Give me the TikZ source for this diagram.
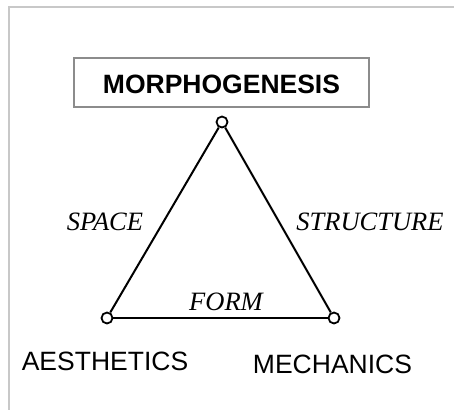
\documentclass[tikz,border=0pt]{standalone}
\usepackage{fontspec}
\setmainfont{Liberation Serif}
\setsansfont{Liberation Sans}
\usepackage{tikz}

\definecolor{framegray}{HTML}{C8C8C8}
\definecolor{boxgray}{HTML}{8C8C8C}

\tikzset{
    vertex/.style={circle, draw, fill=white, line width=1.8pt, minimum size=11pt, inner sep=0pt},
    side/.style={line width=2pt},
    edgelabel/.style={anchor=base, font=\fontsize{26.5}{30}\selectfont\itshape, inner sep=0pt},
    cornerlabel/.style={anchor=base, font=\fontsize{26.5}{30}\selectfont\sffamily, inner sep=0pt},
}

\begin{document}
\begin{tikzpicture}[x=1pt, y=-1pt]
    % 画布大小
    \useasboundingbox (0,0) rectangle (454,410);

    % 外框（只有上边和左边）
    \draw[framegray, line width=2pt] (454,7) -- (9,7) -- (9,410);

    % 标题框
    \draw[boxgray, line width=2pt] (74,58) rectangle (369,107);
    \node[anchor=base, inner sep=0pt, font=\fontsize{26.5}{30}\selectfont\sffamily\bfseries] (title) at (221.5,93) {MORPHOGENESIS};

    % 三角形顶点
    \node[vertex] (top) at (222,122) {};
    \node[vertex] (left) at (107,318) {};
    \node[vertex] (right) at (334,318) {};

    % 三角形边
    \draw[side] (top) -- (left);
    \draw[side] (top) -- (right);
    \draw[side] (left) -- (right);

    % 边的标注
    \node[edgelabel] (space) at (105,230) {SPACE};
    \node[edgelabel] (structure) at (370,230) {STRUCTURE};
    \node[edgelabel] (form) at (226,310) {FORM};

    % 顶点的标注
    \node[cornerlabel] (aesthetics) at (105,370) {AESTHETICS};
    \node[cornerlabel] (mechanics) at (332.5,373) {MECHANICS};
\end{tikzpicture}
\end{document}
